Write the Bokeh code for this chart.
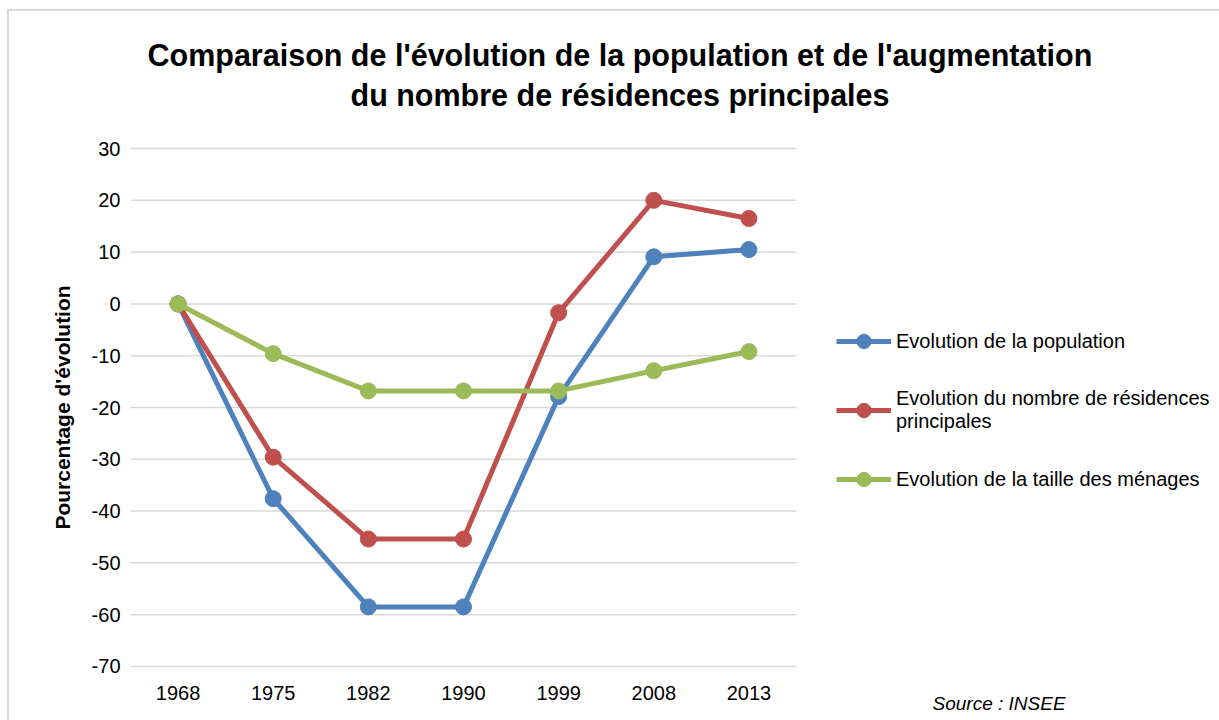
from bokeh.plotting import figure
from bokeh.models import (Range1d, FixedTicker, Legend, LegendItem, Title)
from bokeh.embed import file_html
from bokeh.resources import INLINE

# ---- data ----
years = ["1968", "1975", "1982", "1990", "1999", "2008", "2013"]
population = [0, -37.6, -58.5, -58.5, -17.9, 9.1, 10.5]
residences = [0, -29.6, -45.4, -45.4, -1.7, 20.0, 16.5]
menages = [0, -9.6, -16.8, -16.8, -16.8, -12.9, -9.2]
series_names = ["Evolution de la population",
                "Evolution du nombre de résidences\nprincipales",
                "Evolution de la taille des ménages"]
y_ticks = [-70, -60, -50, -40, -30, -20, -10, 0, 10, 20, 30]
y_tick_labels = ["-70", "-60", "-50", "-40", "-30", "-20", "-10", "0", "10", "20", "30"]
title_lines = ["Comparaison de l'évolution de la population et de l'augmentation",
               "du nombre de résidences principales"]
y_label = "Pourcentage d'évolution"
source_text = "Source : INSEE"

colors = ["#4F81BD", "#C0504D", "#9BBB59"]
FONT = "Liberation Sans"

x_pos = list(range(len(years)))           # category slots 0..6
n_cat = len(years)
# plot area spans the categories; the rest of the frame (to the right) holds the legend
p = figure(width=1219, height=720,
           x_range=Range1d(-0.5, -0.5 + n_cat * 1089 / 666), y_range=Range1d(-70.4, 30.4),
           output_backend="svg", toolbar_location=None,
           min_border_left=130, min_border_right=0,
           min_border_top=146, min_border_bottom=52)
p.outline_line_color = None
p.background_fill_color = "white"
p.border_fill_alpha = 0
p.styles = {"background": "linear-gradient(#d9d9d9,#d9d9d9) 7px 9px / 2px 100% no-repeat, "
                          "linear-gradient(#d9d9d9,#d9d9d9) 7px 9px / 100% 2px no-repeat, white"}
p.xgrid.visible = False
p.ygrid.visible = False
# horizontal gridlines limited to the category area
p.segment(x0=[-0.5] * len(y_ticks), x1=[n_cat - 0.5] * len(y_ticks), y0=y_ticks, y1=y_ticks,
          line_color="#d9d9d9", line_width=1.5)

p.xaxis.ticker = FixedTicker(ticks=x_pos)
p.xaxis.major_label_overrides = dict(zip(x_pos, years))
p.yaxis.ticker = FixedTicker(ticks=y_ticks)
p.yaxis.major_label_overrides = dict(zip(y_ticks, y_tick_labels))

for ax in (p.xaxis[0], p.yaxis[0]):
    ax.axis_line_color = None
    ax.major_tick_line_color = None
    ax.minor_tick_line_color = None
    ax.major_tick_out = 0
    ax.major_tick_in = 0
    ax.minor_tick_out = 0
    ax.major_label_text_font = FONT
    ax.major_label_text_font_size = "20px"
    ax.major_label_text_color = "#000000"
p.xaxis.major_label_standoff = 17
p.yaxis.major_label_standoff = 10
p.yaxis.axis_label = y_label
p.yaxis.axis_label_text_font = FONT
p.yaxis.axis_label_text_font_size = "21px"
p.yaxis.axis_label_text_font_style = "bold"
p.yaxis.axis_label_text_color = "#000000"
p.yaxis.axis_label_standoff = 15

renderers = []
for vals, col in zip([population, residences, menages], colors):
    lr = p.line(x_pos, vals, line_color=col, line_width=5, line_join="round")
    sr = p.scatter(x_pos, vals, size=16, marker="circle", fill_color=col, line_color=col)
    renderers.append([lr, sr])

legend = Legend(items=[LegendItem(label=n, renderers=rs) for n, rs in zip(series_names, renderers)],
                location=(706, 171), orientation="vertical",
                glyph_width=55, glyph_height=36, label_height=24,
                label_standoff=5, padding=0, margin=0, spacing=28,
                label_text_font=FONT, label_text_font_size="20px",
                label_text_line_height=1.35,
                label_text_color="#000000",
                border_line_color=None, background_fill_alpha=0)
p.add_layout(legend, "center")

# titles: stacked outward from the frame in list order
p.add_layout(Title(text=" ", text_font_size="10px", standoff=22), "above")
p.add_layout(Title(text=title_lines[1], align="left", offset=220, standoff=0,
                   text_font=FONT, text_font_size="30.5px", text_font_style="bold",
                   text_color="#000000"), "above")
p.add_layout(Title(text=title_lines[0], align="left", offset=17, standoff=8,
                   text_font=FONT, text_font_size="30.5px", text_font_style="bold",
                   text_color="#000000"), "above")

p.add_layout(Title(text=source_text, align="left", offset=802, standoff=-20,
                   vertical_align="top",
                   text_font=FONT, text_font_size="19px", text_font_style="italic",
                   text_color="#000000"), "below")

open("out.html", "w").write(file_html(p, INLINE))
